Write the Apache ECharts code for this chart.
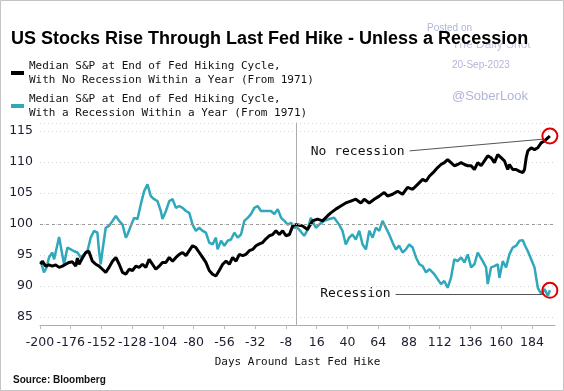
<!DOCTYPE html>
<html><head><meta charset="utf-8">
<script src="https://cdn.jsdelivr.net/npm/echarts@6/dist/echarts.min.js"></script>
<style>html,body{margin:0;padding:0;background:#fff}#c{width:564px;height:391px}</style>
</head><body><div id="c"></div>
<script>
const chartTitle = 'US Stocks Rise Through Last Fed Hike - Unless a Recession';
const noRecName = 'Median S&P at End of Fed Hiking Cycle,\nWith No Recession Within a Year (From 1971)';
const recName = 'Median S&P at End of Fed Hiking Cycle,\nWith a Recession Within a Year (From 1971)';
const xAxisTitle = 'Days Around Last Fed Hike';
const sourceText = 'Source: Bloomberg';
const annotNoRec = 'No recession';
const annotRec = 'Recession';

const noRecDays = [-199.5,-198.2,-195.6,-193,-190.4,-187.8,-185.1,-182.5,-179.9,-177.3,-174.7,-172.1,-170.8,-169.5,-166.9,-164.3,-161.9,-159.1,-156.5,-153.9,-151.3,-148.7,-146.1,-143.4,-140.8,-138.2,-135.6,-133,-130.4,-127.8,-125.2,-122.6,-120,-117.4,-114.8,-112.2,-109.6,-107,-104.4,-101.7,-99.1,-96.5,-93.9,-91.3,-88.7,-86.1,-83.5,-80.9,-78.3,-75.7,-73.1,-70.5,-67.9,-65.3,-62.7,-60.1,-57.4,-54.8,-52.2,-49.6,-47,-44.4,-41.8,-39.2,-36.6,-34,-31.4,-28.8,-26.2,-23.6,-21,-18.4,-15.8,-13.2,-10.6,-8,-5.3,-2.7,-0.1,2.5,4.8,8.8,12.7,16.6,20.5,24.4,27,30.9,34.8,38.7,42.6,46.5,50.5,53.1,57,60.9,64.8,68.7,71.3,75.2,79.1,83,86.9,90.9,94.8,98.7,101.3,103.9,107.8,110.4,113,115.6,118.2,120.8,123.4,126,128.7,131.3,133.9,136.5,139.1,141.7,144.3,146.9,149.5,152.1,154.7,157.3,159.9,162.5,165.1,166.4,169,171.7,174.3,176.9,178.2,179.5,180.8,183.4,186,188.6,191.2,193.8,196.4,198];
const noRecValues = [93.5,94.0,93.2,93.4,93.2,93.4,93.0,93.2,93.5,93.8,93.9,93.2,94.5,93.5,94.5,95.4,95.6,94.0,93.5,93.2,92.7,92.2,93.0,94.0,94.6,93.5,92.2,91.9,92.7,92.5,93.2,93.0,93.5,93.0,94.3,93.5,92.7,93.2,93.8,93.8,94.6,94.0,94.6,95.1,95.4,94.9,95.7,96.5,96.2,95.4,94.6,93.8,92.5,91.9,91.6,92.5,93.5,94.0,93.5,94.6,94.0,95.1,94.9,95.1,95.7,95.9,96.5,96.8,97.0,97.6,98.1,98.3,98.9,98.3,98.9,98.1,98.3,99.7,99.9,99.8,99.7,99.1,100.5,100.8,100.5,101.3,101.8,102.4,102.9,103.4,103.7,104.0,103.4,104.0,103.4,104.0,104.5,105.1,104.5,104.8,105.3,104.8,105.9,105.6,106.4,107.2,106.9,107.7,108.5,109.1,109.6,109.9,110.4,109.9,109.4,109.6,109.9,109.6,109.4,109.4,108.8,109.9,109.4,110.2,111.0,110.7,109.9,111.2,110.7,110.2,108.8,109.6,108.8,108.8,108.5,108.3,108.8,110.7,111.8,112.3,112.0,112.3,113.1,113.4,113.9,114.2];

const recDays = [-199.5,-196.9,-194.8,-193,-190.4,-189,-186.4,-185.1,-183.1,-181.2,-178.6,-176,-173.4,-170.8,-168.2,-165.6,-163,-160.4,-157.8,-155.2,-153.9,-152.6,-151.3,-148.7,-146.1,-143.4,-140.8,-138.2,-135.6,-133,-131.7,-129.1,-126.5,-123.9,-121.3,-118.7,-116.1,-113.5,-110.9,-108.3,-105.7,-104.4,-101.7,-99.1,-96.5,-93.9,-91.3,-88.7,-86.1,-83.5,-80.9,-78.3,-75.7,-73.1,-70.5,-67.9,-65.3,-62.7,-61.4,-58.7,-56.1,-53.5,-50.9,-48.3,-45.7,-43.1,-40.5,-37.9,-35.3,-32.7,-30.1,-27.5,-24.9,-22.3,-19.7,-17.1,-14.4,-11.8,-9.2,-6.6,-4,-1.4,0.9,3.5,6.2,8.8,11.4,15.3,17.9,21.8,25.7,29.6,33.5,36.1,38.7,41.3,43.9,46.5,49.2,51.8,54.4,57,59.6,62.2,64.8,67.4,70,72.6,75.2,77.8,80.4,83,85.6,88.2,90.9,93.5,96.1,98.7,101.3,103.9,105.2,107.8,110.4,113,115.6,118.2,120.8,123.4,126,128.7,131.3,133.9,136.5,139.1,141.7,143,145.6,148.2,149.5,152.1,154.7,157.3,158.6,161.2,163.8,166.4,169,171.7,174.3,176.9,178.2,180.8,183.4,186,188.6,191.2,193.8,196.4,198];
const recValues = [94.0,92.2,93.0,94.6,95.4,94.3,96.7,97.9,95.6,93.5,96.2,95.9,95.6,95.4,94.6,95.1,95.6,97.8,98.9,98.6,95.6,93.5,95.6,99.4,99.7,100.5,101.3,100.5,99.9,97.8,98.3,99.7,101.0,100.8,103.2,105.3,106.4,104.5,104.0,103.7,102.1,100.8,102.1,103.7,104.0,102.6,102.9,102.6,102.1,101.8,99.9,98.9,99.4,98.9,98.6,97.0,96.7,97.8,95.9,97.3,96.5,97.3,97.5,98.6,97.8,98.3,100.5,101.0,101.6,102.6,102.9,102.1,102.1,102.1,102.1,101.6,102.4,101.0,100.5,99.9,100.2,99.4,99.4,98.8,98.1,99.0,101.0,99.4,99.9,100.5,100.8,101.0,99.9,98.9,96.7,97.8,98.3,97.5,98.9,96.7,95.9,98.9,97.8,99.4,98.9,100.5,99.4,98.3,97.0,95.9,96.5,95.4,95.9,96.7,96.2,94.6,93.5,93.2,92.2,92.7,93.0,91.9,91.1,90.3,90.8,89.7,91.3,94.3,94.0,94.6,93.8,95.1,93.0,93.5,95.4,95.6,94.0,93.0,90.3,93.0,93.2,93.5,91.3,94.0,93.0,95.1,96.2,96.5,97.3,97.4,96.7,95.6,94.3,93.0,89.7,88.7,89.5,88.4,89.3];

const zip = (a, b) => a.map((d, i) => [d, b[i]]);
const noRecData = zip(noRecDays, noRecValues);
const recData = zip(recDays, recValues);
const noRecLast = noRecData[noRecData.length - 1];
const recLast = recData[recData.length - 1];

const chart = echarts.init(document.getElementById('c'), null, {renderer: 'canvas'});
const mono = '"DejaVu Sans Mono", monospace';
const tickFont = '"DejaVu Sans", sans-serif';
const wm = '#b2b5d8';
const circle = {
  symbol: 'circle', symbolSize: 15,
  itemStyle: {color: 'rgba(0,0,0,0)', borderColor: '#e00000', borderWidth: 2},
  label: {show: false}
};

chart.setOption({
  animation: false,
  backgroundColor: '#fff',
  title: {
    text: chartTitle, left: 11, top: 30, padding: 0, z: 10,
    textStyle: {fontFamily: '"Liberation Sans", Arial, sans-serif', fontWeight: 'bold', fontSize: 18, color: '#000'}
  },
  legend: {
    data: [noRecName, recName], orient: 'vertical', left: 11, top: 59, padding: 0,
    itemWidth: 13, itemHeight: 4, itemGap: 5, icon: 'rect', selectedMode: false,
    textStyle: {fontFamily: mono, fontSize: 11, lineHeight: 14, color: '#111'}
  },
  graphic: [
    {type: 'rect', shape: {x: 0.5, y: 0.5, width: 563, height: 390}, style: {fill: 'none', stroke: '#c4c4c4', lineWidth: 1}, silent: true, z: -10},
    {type: 'text', left: 427, top: 23, z: -5, style: {text: 'Posted on', fill: wm, font: '10px "Liberation Sans", Arial, sans-serif'}},
    {type: 'text', left: 452, top: 39, z: -5, style: {text: 'The Daily Shot', fill: '#c6c8e2', font: '12px "Liberation Sans", Arial, sans-serif'}},
    {type: 'rect', shape: {x: 445, y: 34, width: 100, height: 9}, style: {fill: '#fff'}, silent: true, z: -4},
    {type: 'text', left: 452, top: 60, z: -5, style: {text: '20-Sep-2023', fill: wm, font: '10px "Liberation Sans", Arial, sans-serif'}},
    {type: 'text', left: 452, top: 90, z: -5, style: {text: '@SoberLook', fill: wm, font: '13px "Liberation Sans", Arial, sans-serif'}},
    {type: 'text', left: 13, top: 375, style: {text: sourceText, fill: '#111', font: 'bold 10px "Liberation Sans", Arial, sans-serif'}}
  ],
  grid: {left: 40, right: 9, top: 123, bottom: 66, containLabel: false},
  xAxis: {
    type: 'value', min: -200, max: 202, interval: 24,
    name: xAxisTitle, nameLocation: 'middle', nameGap: 32,
    nameTextStyle: {fontFamily: mono, fontSize: 11, color: '#111'},
    axisLine: {show: true, onZero: false, lineStyle: {color: '#aaaaaa', width: 1}},
    axisTick: {show: true, length: 4, lineStyle: {color: '#bbbbbb'}},
    axisLabel: {fontFamily: tickFont, fontSize: 12.5, color: '#1c1c30', margin: 11, showMaxLabel: false},
    splitLine: {show: false}
  },
  yAxis: {
    type: 'value', min: 83.7, max: 116.3, minInterval: 5, maxInterval: 5,
    axisLine: {show: true, lineStyle: {color: '#aaaaaa', width: 1}},
    axisTick: {show: false},
    axisLabel: {fontFamily: tickFont, fontSize: 12.5, color: '#1c1c30', margin: 7, showMinLabel: false, showMaxLabel: false},
    splitLine: {show: true, lineStyle: {color: '#d2d2d2', type: [1, 3], width: 1}}
  },
  series: [
    {
      name: recName, type: 'line', data: recData, showSymbol: false, symbol: 'none',
      z: 2, lineStyle: {color: '#2ea8ba', width: 2.5}, itemStyle: {color: '#2ea8ba'},
      markLine: {
        silent: true, symbol: ['none', 'none'],
        lineStyle: {color: '#9a9a9a', type: [3, 3], width: 1},
        label: {show: false},
        data: [{yAxis: 100}, {xAxis: 0, lineStyle: {color: '#b4b4b4', type: [1, 3], width: 1}},
          [{coord: [77.6, 88.7], lineStyle: {color: '#555', type: 'solid', width: 1},
            label: {show: true, position: 'start', formatter: annotRec, fontFamily: mono, fontSize: 13, color: '#111', distance: 5}},
           {coord: [193.3, 88.7]}]
        ]
      },
      markPoint: Object.assign({data: [{coord: recLast}]}, circle)
    },
    {
      name: noRecName, type: 'line', data: noRecData, showSymbol: false, symbol: 'none',
      z: 3, lineStyle: {color: '#000', width: 3}, itemStyle: {color: '#000'},
      markLine: {
        silent: true, symbol: ['none', 'none'],
        lineStyle: {color: '#555', type: 'solid', width: 1},
        data: [
          [{coord: [88.5, 111.8],
            label: {show: true, position: 'start', formatter: annotNoRec, fontFamily: mono, fontSize: 13, color: '#111', distance: 5}},
           {coord: [193, 113.7]}]
        ]
      },
      markPoint: Object.assign({data: [{coord: noRecLast}]}, circle)
    }
  ]
});
</script>
</body></html>
